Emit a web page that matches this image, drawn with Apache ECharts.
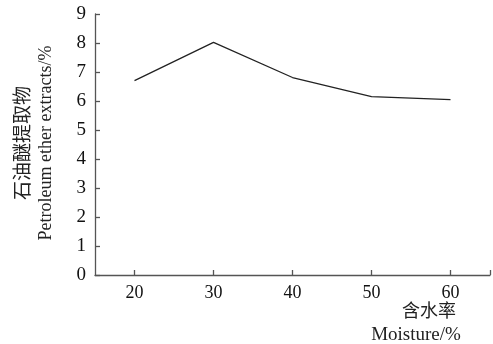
<!DOCTYPE html>
<html><head><meta charset="utf-8">
<script src="https://cdn.jsdelivr.net/npm/echarts@6/dist/echarts.min.js"></script>
<style>html,body{margin:0;padding:0;background:#fff}#c{width:493px;height:344px}</style>
</head><body><div id="c"></div>
<script>
const moisture = [20, 30, 40, 50, 60];
const extracts = [6.70, 8.02, 6.81, 6.15, 6.05];
const xTickValues = [20, 30, 40, 50, 60, 65];
const xLabelValues = [20, 30, 40, 50, 60];
const yTitleCn = '石油醚提取物';
const yTitleEn = 'Petroleum ether extracts/%';
const xTitleCn = '含水率';
const xTitleEn = 'Moisture/%';

const serif = '"Liberation Serif","DejaVu Serif",serif';
const cjk = '"Noto Sans CJK SC",sans-serif';
const axisColor = '#555';
const chart = echarts.init(document.getElementById('c'), null, {renderer: 'canvas'});
chart.setOption({
  animation: false,
  backgroundColor: '#fff',
  grid: {left: 95, right: 3, top: 14, bottom: 69, containLabel: false},
  xAxis: {
    type: 'value', min: 15, max: 65,
    axisLine: {show: true, lineStyle: {color: axisColor, width: 1.3}},
    axisTick: {show: true, inside: true, length: 5, customValues: xTickValues, lineStyle: {color: axisColor, width: 1.3}},
    axisLabel: {customValues: xLabelValues, color: '#111', fontFamily: serif, fontSize: 18, margin: 9},
    splitLine: {show: false}
  },
  yAxis: {
    type: 'value', min: 0, max: 9, interval: 1,
    axisLine: {show: true, lineStyle: {color: axisColor, width: 1.3}},
    axisTick: {show: true, inside: true, length: 5, lineStyle: {color: axisColor, width: 1.3}},
    axisLabel: {color: '#111', fontFamily: serif, fontSize: 19, margin: 9},
    splitLine: {show: false}
  },
  series: [{
    type: 'line',
    data: moisture.map((m, i) => [m, extracts[i]]),
    showSymbol: false,
    lineStyle: {color: '#222', width: 1.3}
  }],
  graphic: [
    {type: 'text', x: 22, y: 143, rotation: Math.PI / 2,
     style: {text: yTitleCn, font: '19px ' + cjk, fill: '#222', align: 'center', verticalAlign: 'middle'}},
    {type: 'text', x: 46, y: 143, rotation: Math.PI / 2,
     style: {text: yTitleEn, font: '18px ' + serif, fill: '#222', align: 'center', verticalAlign: 'middle'}},
    {type: 'text', x: 429, y: 310,
     style: {text: xTitleCn, font: '18px ' + cjk, fill: '#222', align: 'center', verticalAlign: 'middle'}},
    {type: 'text', x: 416, y: 335,
     style: {text: xTitleEn, font: '19px ' + serif, fill: '#222', align: 'center', verticalAlign: 'middle'}}
  ]
});
</script></body></html>
